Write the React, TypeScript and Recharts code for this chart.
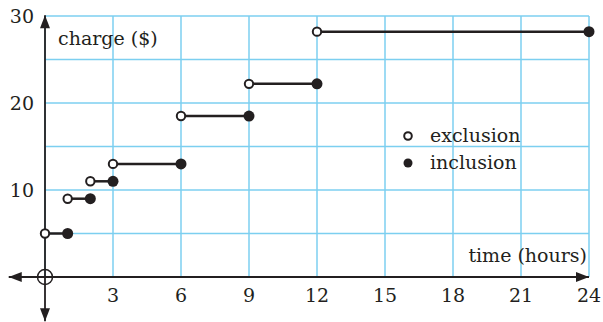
import { ComposedChart, Scatter, XAxis, YAxis, CartesianGrid, ReferenceLine, ReferenceDot, Legend } from 'recharts';

// breakpoints of the step function (hours) and the charge on each interval
const hours = [0, 1, 2, 3, 6, 9, 12, 24];
const charges = [5, 9, 11, 13, 18.5, 22.2, 28.2];

const xTicks = [0, 3, 6, 9, 12, 15, 18, 21, 24];
const yTicks = [0, 5, 10, 15, 20, 25, 30];
const yLabels = [10, 20, 30];

const legendItems = [
  { name: 'exclusion', open: true },
  { name: 'inclusion', open: false },
];

const INK = '#231f20';
const GRID = '#7ccff0';
const FONT = "'DejaVu Serif', serif";

// each interval as its own two-point segment
const segments = charges.map((c, i) => [
  { x: hours[i], y: c },
  { x: hours[i + 1], y: c },
]);
const openPoints = charges.map((c, i) => ({ x: hours[i], y: c }));
const closedPoints = charges.map((c, i) => ({ x: hours[i + 1], y: c }));

const XTick = ({ x, y, payload }: any) => {
  if (payload.value === 0) return <g />;
  return (
    <text x={x} y={y} dy={17} textAnchor="middle" fill={INK} fontSize={19} fontFamily={FONT}>
      {payload.value}
    </text>
  );
};

const YTick = ({ x, y, payload }: any) => {
  if (!yLabels.includes(payload.value)) return <g />;
  return (
    <text x={x - 3} y={y} dy={7} textAnchor="end" fill={INK} fontSize={19} fontFamily={FONT}>
      {payload.value}
    </text>
  );
};

// axis line with arrowheads on both ends
const ArrowAxis = (props: any) => {
  const { x1, y1, x2, y2 } = props;
  const len = Math.hypot(x2 - x1, y2 - y1);
  const ux = (x2 - x1) / len;
  const uy = (y2 - y1) / len;
  const head = (tx: number, ty: number, dx: number, dy: number) => {
    const bx = tx - dx * 13;
    const by = ty - dy * 13;
    const px = -dy * 5;
    const py = dx * 5;
    return <polygon points={`${tx},${ty} ${bx + px},${by + py} ${bx - px},${by - py}`} fill={INK} />;
  };
  return (
    <g>
      <line x1={x1} y1={y1} x2={x2} y2={y2} stroke={INK} strokeWidth={1.8} />
      {head(x2, y2, ux, uy)}
      {head(x1, y1, -ux, -uy)}
    </g>
  );
};

const OpenDot = ({ cx, cy }: any) => (
  <circle cx={cx} cy={cy} r={4.2} fill="#fff" stroke={INK} strokeWidth={2} />
);
const ClosedDot = ({ cx, cy }: any) => <circle cx={cx} cy={cy} r={5.5} fill={INK} />;
const NoDot = () => <g />;

const LegendBox = () => (
  <div style={{ fontFamily: FONT, fontSize: 19, color: INK, lineHeight: '27px' }}>
    {legendItems.map((item) => (
      <div key={item.name} style={{ display: 'flex', alignItems: 'center' }}>
        <svg width={28} height={12}>
          {item.open ? (
            <circle cx={6} cy={6} r={3.8} fill="#fff" stroke={INK} strokeWidth={2} />
          ) : (
            <circle cx={6} cy={6} r={4.5} fill={INK} />
          )}
        </svg>
        <span>{item.name}</span>
      </div>
    ))}
  </div>
);

export default function App() {
  return (
    <div style={{ position: 'relative', width: 603, height: 322 }}>
      <style>{'body{margin:0;background:#fff}'}</style>
      <ComposedChart width={603} height={322} margin={{ top: 16, right: 14, bottom: 0, left: 0 }}>
        <CartesianGrid stroke={GRID} strokeWidth={1.5} />
        <XAxis
          type="number"
          dataKey="x"
          domain={[0, 24]}
          ticks={xTicks}
          interval={0}
          height={45}
          axisLine={false}
          tickLine={false}
          tick={<XTick />}
        />
        <YAxis
          type="number"
          dataKey="y"
          domain={[0, 30]}
          ticks={yTicks}
          interval={0}
          width={45}
          axisLine={false}
          tickLine={false}
          tick={<YTick />}
        />
        <ReferenceLine
          segment={[{ x: -1.6, y: 0 }, { x: 24, y: 0 }]}
          ifOverflow="visible"
          shape={(p: any) => <ArrowAxis {...p} />}
        />
        <ReferenceLine
          segment={[{ x: 0, y: -5.1 }, { x: 0, y: 30.1 }]}
          ifOverflow="visible"
          shape={(p: any) => <ArrowAxis {...p} />}
        />
        <ReferenceDot x={0} y={0} r={7.5} fill="none" stroke={INK} strokeWidth={1.5} ifOverflow="visible" />
        {segments.map((seg, i) => (
          <Scatter
            key={i}
            data={seg}
            line={{ stroke: INK, strokeWidth: 2.5 }}
            shape={<NoDot />}
            legendType="none"
            isAnimationActive={false}
          />
        ))}
        <Scatter data={openPoints} shape={<OpenDot />} isAnimationActive={false} />
        <Scatter data={closedPoints} shape={<ClosedDot />} isAnimationActive={false} />
        <Legend
          layout="vertical"
          align="center"
          verticalAlign="middle"
          content={<LegendBox />}
          wrapperStyle={{ position: 'absolute', left: 402, top: 122, width: 150 }}
        />
        <text x={58} y={45} fill={INK} fontSize={19} fontFamily={FONT}>
          charge ($)
        </text>
        <text x={587} y={262} textAnchor="end" fill={INK} fontSize={19} fontFamily={FONT}>
          time (hours)
        </text>
      </ComposedChart>
    </div>
  );
}
